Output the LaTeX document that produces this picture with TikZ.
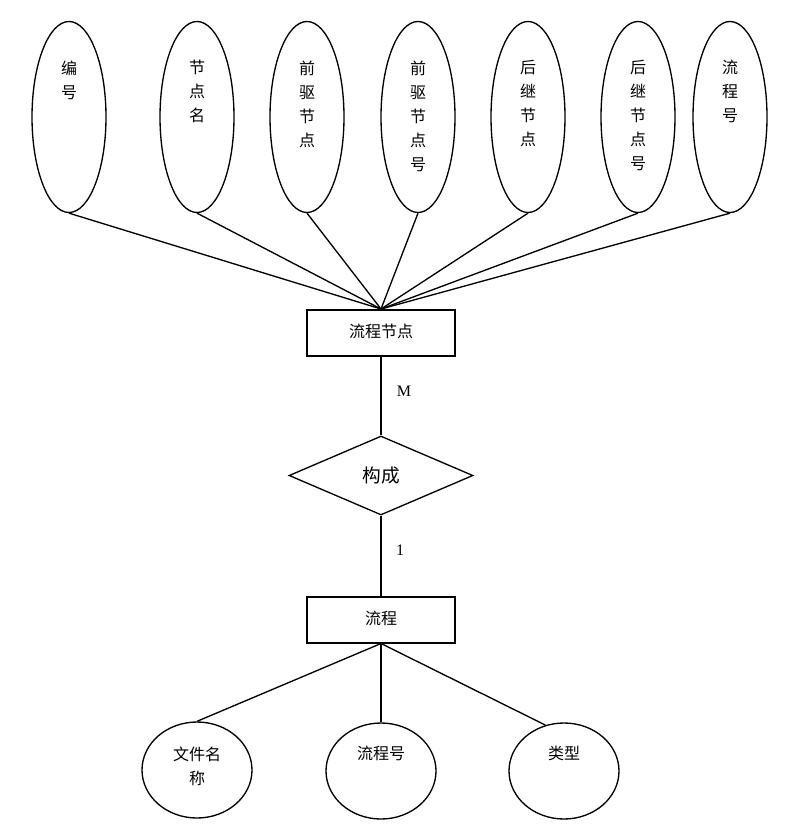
\documentclass[tikz,border=0pt]{standalone}
\usepackage{fontspec}
\setmainfont{Liberation Serif}
\newfontfamily\cjk{Noto Sans CJK SC}
\usetikzlibrary{shapes.geometric}

\tikzset{every picture/.style={line width=0.75pt}}
\tikzset{
  attr/.style={draw,ellipse,line width=1pt,inner sep=0pt,minimum width=55.5pt,minimum height=143.25pt},
  attrb/.style={draw,ellipse,line width=1pt,inner sep=0pt,minimum width=82.5pt,minimum height=72pt},
  entity/.style={draw,rectangle,line width=1.5pt,inner sep=0pt,minimum width=111pt,minimum height=34.5pt,text depth=3pt,font=\cjk\fontsize{12}{14}\selectfont},
  relation/.style={draw,diamond,aspect=2.33,line width=1pt,inner sep=0pt,minimum width=138pt,minimum height=59.25pt,font=\cjk\fontsize{14}{16}\selectfont},
  lbl/.style={anchor=north,inner sep=0pt,align=center,font=\cjk\fontsize{12}{18}\selectfont},
  card/.style={inner sep=0pt,font=\fontsize{12}{14}\selectfont},
  link/.style={line width=1pt},
  stem/.style={line width=1.5pt}
}

\begin{document}
\begin{tikzpicture}[x=0.75pt,y=0.75pt,yscale=-1,xscale=1]
\useasboundingbox (0,0) rectangle (793,827);

%Shape: Ellipse, attributes of node
\node [attr] (a1) at (69,117) {};
\node [attr] (a2) at (197,117) {};
\node [attr] (a3) at (307,117) {};
\node [attr] (a4) at (418,117) {};
\node [attr] (a5) at (528,117) {};
\node [attr] (a6) at (638,117) {};
\node [attr] (a7) at (730,117) {};

% Text Node
\node [lbl] (t1) at (69,60) {编\\号};
\node [lbl] (t2) at (197,60) {节\\点\\名};
\node [lbl] (t3) at (307,60) {前\\驱\\节\\点};
\node [lbl] (t4) at (418,60) {前\\驱\\节\\点\\号};
\node [lbl] (t5) at (528,60) {后\\继\\节\\点};
\node [lbl] (t6) at (638,60) {后\\继\\节\\点\\号};
\node [lbl] (t7) at (730,60) {流\\程\\号};

%Shape: Rectangle
\node [entity] (node) at (381,333) {流程节点};
%Shape: Diamond
\node [relation] (make) at (381,475.5) {构成};
%Shape: Rectangle
\node [entity] (flow) at (381,619.5) {流程};

%Shape: Ellipse, attributes of flow
\node [attrb] (b1) at (197,770) {};
\node [attrb] (b2) at (381,771) {};
\node [attrb] (b3) at (564,771) {};

% Text Node
\node [lbl] (s1) at (197,746) {文件名\\称};
\node [lbl] (s2) at (381,746) {流程号};
\node [lbl] (s3) at (564,746) {类型};

% Text Node
\node [card] (m) at (404,391) {M};
\node [card] (one) at (400,550) {1};

%Straight Lines
\foreach \i in {1,...,7}
  \draw [link] (a\i.south) -- (node.north);
\draw [stem] (node.south) -- (make.north);
\draw [stem] (make.south) -- (flow.north);
\draw [link] (flow.south) -- (b1.north);
\draw [stem] (flow.south) -- (b2.north);
\draw [link] (flow.south) -- (b3.112);

\end{tikzpicture}
\end{document}
